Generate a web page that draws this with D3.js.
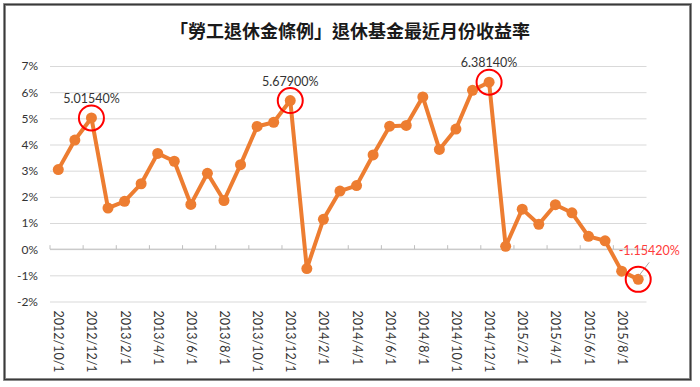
<!DOCTYPE html>
<html>
<head>
<meta charset="utf-8">
<script src="https://cdn.jsdelivr.net/npm/d3@7"></script>
<style>
  body { margin: 0; background: #fff; }
  svg { display: block; }
</style>
</head>
<body>
<div id="wrapper"></div>
<script>
// monthly returns (%) 2012/10 .. 2015/9
const months = [
  "2012/10/1", "2012/11/1", "2012/12/1",
  "2013/1/1", "2013/2/1", "2013/3/1", "2013/4/1", "2013/5/1", "2013/6/1",
  "2013/7/1", "2013/8/1", "2013/9/1", "2013/10/1", "2013/11/1", "2013/12/1",
  "2014/1/1", "2014/2/1", "2014/3/1", "2014/4/1", "2014/5/1", "2014/6/1",
  "2014/7/1", "2014/8/1", "2014/9/1", "2014/10/1", "2014/11/1", "2014/12/1",
  "2015/1/1", "2015/2/1", "2015/3/1", "2015/4/1", "2015/5/1", "2015/6/1",
  "2015/7/1", "2015/8/1", "2015/9/1"
];
const returns = [
  3.04, 4.17, 5.0154,
  1.57, 1.83, 2.50, 3.66, 3.36, 1.71,
  2.90, 1.86, 3.23, 4.69, 4.85, 5.679,
  -0.74, 1.14, 2.22, 2.43, 3.60, 4.70,
  4.73, 5.82, 3.81, 4.59, 6.07, 6.3814,
  0.11, 1.53, 0.95, 1.70, 1.39, 0.49,
  0.32, -0.84, -1.1542
];
const yTicks = [-2, -1, 0, 1, 2, 3, 4, 5, 6, 7];
// highlighted points: index in months + label text
const highlights = [
  { i: 2, text: "5.01540%" },
  { i: 14, text: "5.67900%" },
  { i: 26, text: "6.38140%" },
  { i: 35, text: "-1.15420%" }
];

const dimensions = {
  width: 700,
  height: 387,
  margin: { top: 66, left: 50, bottom: 85.5, right: 53.5 }
};
dimensions.boundedWidth = dimensions.width - dimensions.margin.left - dimensions.margin.right;
dimensions.boundedHeight = dimensions.height - dimensions.margin.top - dimensions.margin.bottom;

const orange = "#ED7D31";
const font = "Lato, 'Noto Sans', sans-serif";

const svg = d3.select("#wrapper").append("svg")
    .attr("width", dimensions.width)
    .attr("height", dimensions.height);

// chart frame
svg.append("rect")
    .attr("x", 4.5).attr("y", 4.5)
    .attr("width", 686).attr("height", 375)
    .attr("fill", "#fff")
    .attr("stroke", "#9a9a9a")
    .attr("stroke-width", 3);
svg.append("rect")
    .attr("x", 4.5).attr("y", 4.5)
    .attr("width", 686).attr("height", 375)
    .attr("fill", "none")
    .attr("stroke", "#3a3a3a")
    .attr("stroke-width", 1.3);

// title
svg.append("text")
    .attr("x", 350)
    .attr("y", 38)
    .attr("text-anchor", "middle")
    .style("font-family", "'Noto Sans CJK TC', sans-serif")
    .style("font-size", "18px")
    .style("font-weight", "bold")
    .attr("fill", "#1a1a1a")
    .text("「勞工退休金條例」退休基金最近月份收益率");

const x = d3.scaleBand()
    .domain(months)
    .range([dimensions.margin.left, dimensions.width - dimensions.margin.right]);
const y = d3.scaleLinear()
    .domain([-2, 7])
    .range([dimensions.height - dimensions.margin.bottom, dimensions.margin.top]);
const cx = d => x(d) + x.bandwidth() / 2;

// gridlines + y labels
const yAxis = d3.axisLeft(y)
    .tickValues(yTicks)
    .tickSize(-(x.range()[1] - x.range()[0]))
    .tickPadding(12)
    .tickFormat(d => d + "%");
const gy = svg.append("g")
    .attr("transform", `translate(${dimensions.margin.left},0)`)
    .call(yAxis);
gy.select(".domain").remove();
gy.selectAll(".tick line").attr("stroke", "#d9d9d9").attr("stroke-width", 1);
gy.selectAll(".tick text")
    .attr("fill", "#333")
    .style("font-family", font)
    .style("font-size", "12px");

// category axis at 0%, ticks every 2 months
const tickMonths = months.filter((d, i) => i % 2 === 0);
const gx = svg.append("g").attr("transform", `translate(0,${y(0)})`);
gx.append("line")
    .attr("x1", x.range()[0]).attr("x2", x.range()[1])
    .attr("stroke", "#bfbfbf");
gx.selectAll("line.tk")
    .data(tickMonths.concat(["end"]))
    .join("line")
    .attr("class", "tk")
    .attr("x1", d => d === "end" ? x.range()[1] : x(d))
    .attr("x2", d => d === "end" ? x.range()[1] : x(d))
    .attr("y1", -4).attr("y2", 0)
    .attr("stroke", "#bfbfbf");

// rotated month labels at the bottom
svg.append("g").selectAll("text")
    .data(tickMonths)
    .join("text")
    .attr("transform", d => `translate(${cx(d) - 4},${y(-2) + 9}) rotate(90)`)
    .attr("text-anchor", "start")
    .attr("fill", "#333")
    .style("font-family", font)
    .style("font-size", "12.5px")
    .text(d => d);

// series
const line = d3.line()
    .x((d, i) => cx(months[i]))
    .y(d => y(d));
svg.append("path")
    .datum(returns)
    .attr("fill", "none")
    .attr("stroke", orange)
    .attr("stroke-width", 4)
    .attr("stroke-linejoin", "round")
    .attr("d", line);
svg.append("g").selectAll("circle")
    .data(returns)
    .join("circle")
    .attr("cx", (d, i) => cx(months[i]))
    .attr("cy", d => y(d))
    .attr("r", 5.5)
    .attr("fill", orange);

// highlighted points
const hl = svg.append("g");
highlights.forEach(h => {
  const px = cx(months[h.i]);
  const py = y(returns[h.i]);
  const last = h.i === months.length - 1;
  if (last) {
    hl.append("line")
        .attr("x1", px + 1).attr("y1", py - 4)
        .attr("x2", px + 11).attr("y2", py - 17)
        .attr("stroke", "#a6a6a6");
  }
  hl.append("circle")
      .attr("cx", px).attr("cy", py)
      .attr("r", 12.5)
      .attr("fill", "none")
      .attr("stroke", "#ff0000")
      .attr("stroke-width", 2);
  hl.append("text")
      .attr("x", last ? px + 11 : px)
      .attr("y", last ? py - 24 : py - 15)
      .attr("text-anchor", "middle")
      .attr("fill", last ? "#ff3b3b" : "#333")
      .style("font-family", font)
      .style("font-size", "12.5px")
      .text(h.text);
});
</script>
</body>
</html>
